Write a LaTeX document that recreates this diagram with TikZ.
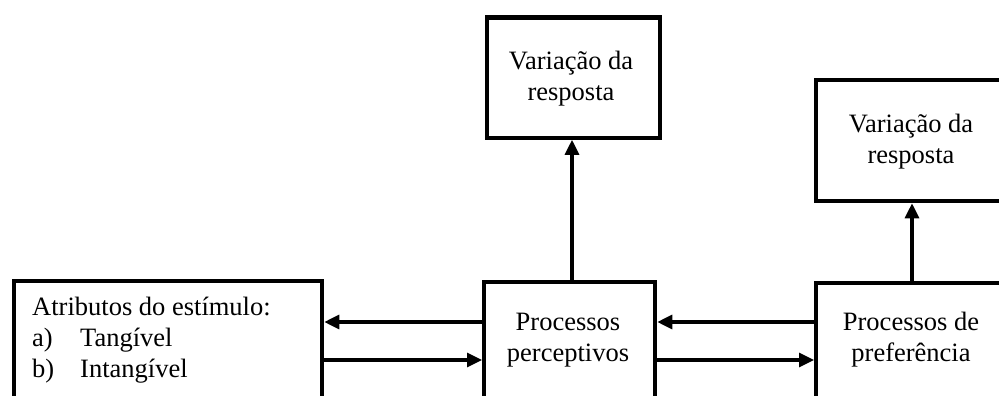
\documentclass[tikz,border=0pt]{standalone}
\usepackage{fontspec}
\setmainfont{Liberation Serif}
\usetikzlibrary{arrows.meta}
\begin{document}
\begin{tikzpicture}[x=1pt,y=-1pt,
  box/.style={draw, line width=4.3pt, inner sep=0pt, anchor=north west},
  txt/.style={anchor=base, inner sep=0pt, font=\fontsize{26.5}{31}\selectfont},
  link/.style={line width=3.2pt, -{Triangle[length=15pt,width=14pt]}}]
  \useasboundingbox (0,0) rectangle (999,396);
  \clip (0,0) rectangle (999,396);

  % boxes (lower ones run past the bottom edge, right ones past the right edge)
  \node[box, minimum width=308pt, minimum height=160pt] (attr) at (12,279) {};
  \node[box, minimum width=171pt, minimum height=160pt] (perc) at (482,280) {};
  \node[box, minimum width=200pt, minimum height=160pt] (pref) at (814,281) {};
  \node[box, minimum width=173pt, minimum height=120pt] (resp1) at (485,15.5) {};
  \node[box, minimum width=200pt, minimum height=121pt] (resp2) at (814,78) {};

  % labels
  \node[txt, anchor=base west] (attrtxt) at (32,315)
    {\begin{tabular}[t]{@{}p{48pt}@{}l@{}}
      \multicolumn{2}{@{}l@{}}{Atributos do estímulo:}\\
      a) & Tangível\\
      b) & Intangível
    \end{tabular}};
  \node[txt] (perctxt) at (568,330)
    {\begin{tabular}[t]{@{}c@{}}Processos\\perceptivos\end{tabular}};
  \node[txt] (preftxt) at (911,330)
    {\begin{tabular}[t]{@{}c@{}}Processos de\\preferência\end{tabular}};
  \node[txt] (resp1txt) at (571,70)
    {\begin{tabular}[t]{@{}c@{}}Variação da\\resposta\end{tabular}};
  \node[txt] (resp2txt) at (911,132)
    {\begin{tabular}[t]{@{}c@{}}Variação da\\resposta\end{tabular}};

  % connectors
  \draw[link] (perc.west |- 0,322) -- (attr.east |- 0,322);
  \draw[link] (attr.east |- 0,360) -- (perc.west |- 0,360);
  \draw[link] (pref.west |- 0,322) -- (perc.east |- 0,322);
  \draw[link] (perc.east |- 0,360) -- (pref.west |- 0,360);
  \draw[link] (572,0 |- perc.north) -- (572,0 |- resp1.south);
  \draw[link] (912,0 |- pref.north) -- (912,0 |- resp2.south);
\end{tikzpicture}
\end{document}
